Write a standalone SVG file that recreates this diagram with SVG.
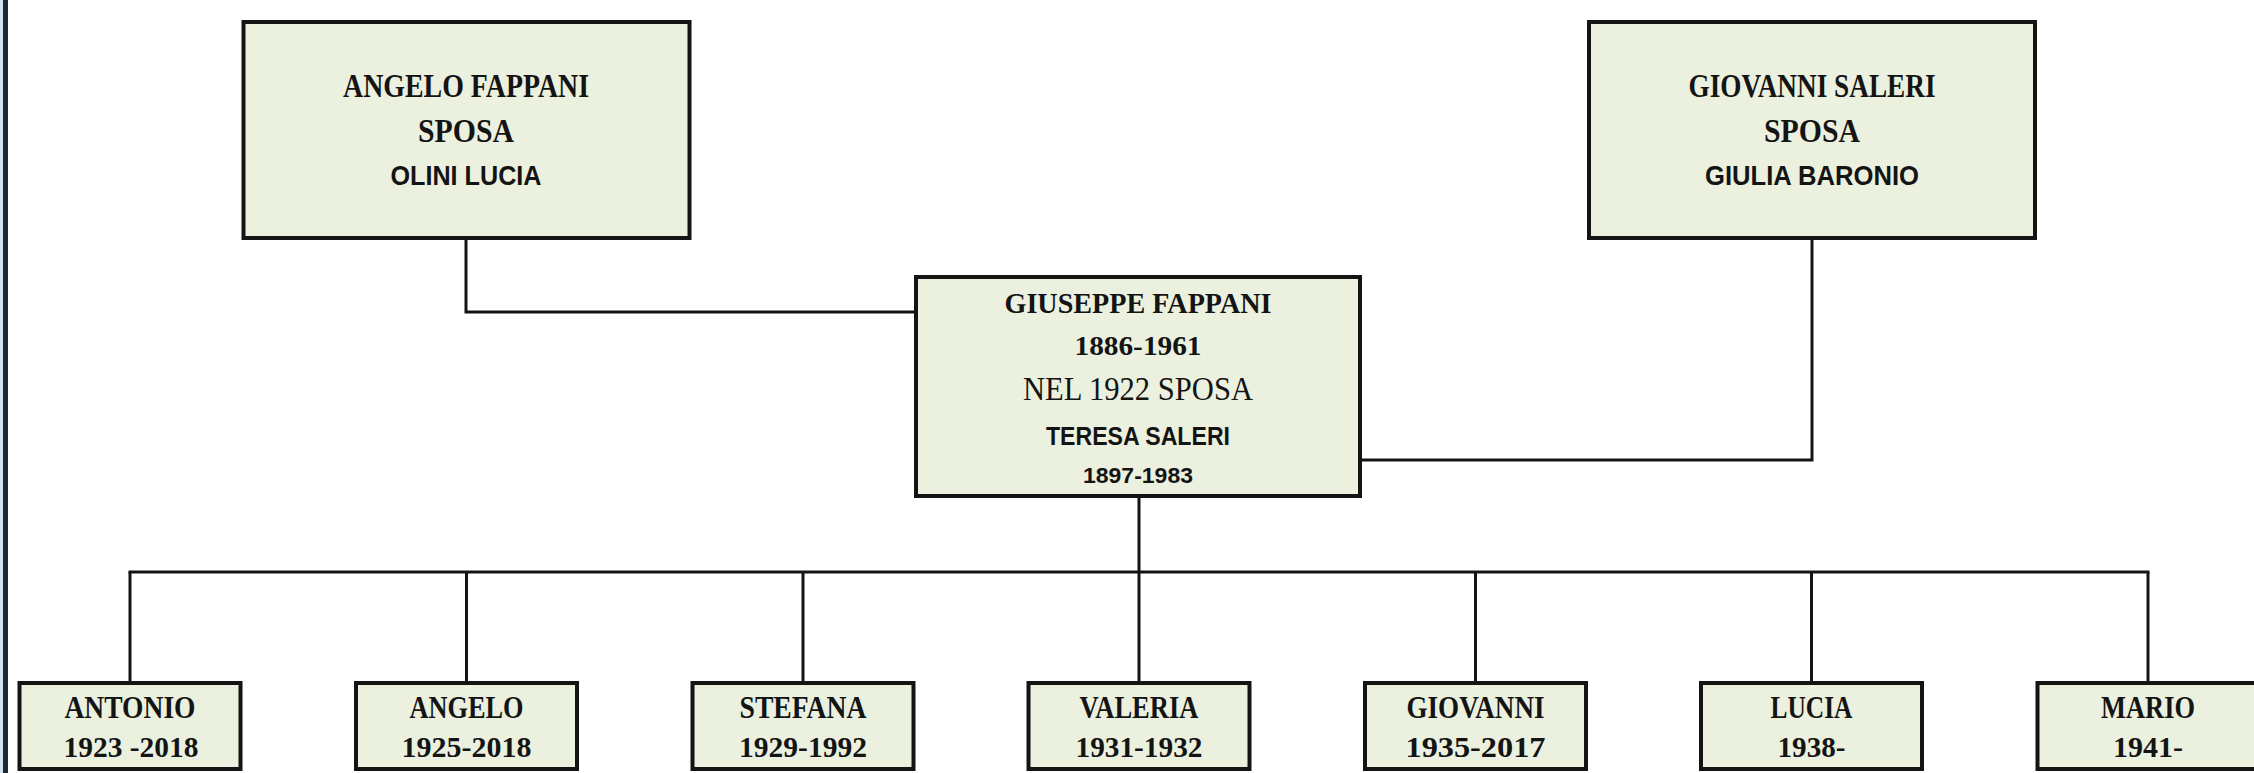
<svg xmlns="http://www.w3.org/2000/svg" width="2254" height="773" viewBox="0 0 2254 773">
<style>
.box{fill:#ebf1de;stroke:#141414;stroke-width:4}
.ln{fill:none;stroke:#141414;stroke-width:3}
text{text-anchor:middle;fill:#141414}
.sb{font-family:"Liberation Serif",serif;font-weight:bold}
.sr{font-family:"Liberation Serif",serif;font-weight:normal}
.ss{font-family:"Liberation Sans",Arial,sans-serif;font-weight:bold}
</style>
<rect x="0" y="0" width="2254" height="773" fill="#ffffff"/>
<rect x="0" y="0" width="3" height="773" fill="#cfe2f2"/>
<rect x="3" y="0" width="5" height="773" fill="#1c2833"/>
<g id="connectors">
<polyline class="ln" points="466,240 466,312 914,312"/>
<polyline class="ln" points="1812,240 1812,460 1362,460"/>
<line class="ln" x1="1139" y1="498" x2="1139" y2="572"/>
<line class="ln" x1="128.5" y1="572" x2="2149.5" y2="572"/>
<line class="ln" x1="130" y1="572" x2="130" y2="682"/>
<line class="ln" x1="466.5" y1="572" x2="466.5" y2="682"/>
<line class="ln" x1="803" y1="572" x2="803" y2="682"/>
<line class="ln" x1="1139" y1="572" x2="1139" y2="682"/>
<line class="ln" x1="1475.5" y1="572" x2="1475.5" y2="682"/>
<line class="ln" x1="1811.5" y1="572" x2="1811.5" y2="682"/>
<line class="ln" x1="2148" y1="572" x2="2148" y2="682"/>
</g>
<g id="angelo-fappani">
<rect class="box" x="243.5" y="22" width="446" height="216"/>
<text class="sb" x="466" y="97" font-size="33" textLength="246" lengthAdjust="spacingAndGlyphs">ANGELO FAPPANI</text>
<text class="sb" x="466" y="142" font-size="33" textLength="96" lengthAdjust="spacingAndGlyphs">SPOSA</text>
<text class="ss" x="466" y="185" font-size="28" textLength="151" lengthAdjust="spacingAndGlyphs">OLINI LUCIA</text>
</g>
<g id="giovanni-saleri">
<rect class="box" x="1589" y="22" width="446" height="216"/>
<text class="sb" x="1812" y="97" font-size="33" textLength="247" lengthAdjust="spacingAndGlyphs">GIOVANNI SALERI</text>
<text class="sb" x="1812" y="142" font-size="33" textLength="96" lengthAdjust="spacingAndGlyphs">SPOSA</text>
<text class="ss" x="1812" y="185" font-size="28" textLength="214" lengthAdjust="spacingAndGlyphs">GIULIA BARONIO</text>
</g>
<g id="giuseppe-fappani">
<rect class="box" x="916" y="277" width="444" height="219"/>
<text class="sb" x="1138" y="313" font-size="29" textLength="267" lengthAdjust="spacingAndGlyphs">GIUSEPPE FAPPANI</text>
<text class="sb" x="1138" y="355" font-size="27" textLength="127" lengthAdjust="spacingAndGlyphs">1886-1961</text>
<text class="sr" x="1138" y="400" font-size="33" textLength="230" lengthAdjust="spacingAndGlyphs">NEL 1922 SPOSA</text>
<text class="ss" x="1138" y="445" font-size="25.5" textLength="184" lengthAdjust="spacingAndGlyphs">TERESA SALERI</text>
<text class="ss" x="1138" y="483" font-size="22.5" textLength="110" lengthAdjust="spacingAndGlyphs">1897-1983</text>
</g>
<g id="antonio">
<rect class="box" x="19.5" y="683" width="221" height="86"/>
<text class="sb" x="130" y="718" font-size="31" textLength="131" lengthAdjust="spacingAndGlyphs">ANTONIO</text>
<text class="sb" x="131" y="757" font-size="29" textLength="135" lengthAdjust="spacingAndGlyphs">1923 -2018</text>
</g>
<g id="angelo">
<rect class="box" x="356" y="683" width="221" height="86"/>
<text class="sb" x="466.5" y="718" font-size="31" textLength="114" lengthAdjust="spacingAndGlyphs">ANGELO</text>
<text class="sb" x="466.5" y="757" font-size="29" textLength="130" lengthAdjust="spacingAndGlyphs">1925-2018</text>
</g>
<g id="stefana">
<rect class="box" x="692.5" y="683" width="221" height="86"/>
<text class="sb" x="803" y="718" font-size="31" textLength="127" lengthAdjust="spacingAndGlyphs">STEFANA</text>
<text class="sb" x="803" y="757" font-size="29" textLength="128" lengthAdjust="spacingAndGlyphs">1929-1992</text>
</g>
<g id="valeria">
<rect class="box" x="1028.5" y="683" width="221" height="86"/>
<text class="sb" x="1139" y="718" font-size="31" textLength="119" lengthAdjust="spacingAndGlyphs">VALERIA</text>
<text class="sb" x="1139" y="757" font-size="29" textLength="127" lengthAdjust="spacingAndGlyphs">1931-1932</text>
</g>
<g id="giovanni">
<rect class="box" x="1365" y="683" width="221" height="86"/>
<text class="sb" x="1475.5" y="718" font-size="31" textLength="138" lengthAdjust="spacingAndGlyphs">GIOVANNI</text>
<text class="sb" x="1475.5" y="757" font-size="29" textLength="140" lengthAdjust="spacingAndGlyphs">1935-2017</text>
</g>
<g id="lucia">
<rect class="box" x="1701" y="683" width="221" height="86"/>
<text class="sb" x="1811.5" y="718" font-size="31" textLength="82" lengthAdjust="spacingAndGlyphs">LUCIA</text>
<text class="sb" x="1811.5" y="757" font-size="29" textLength="68" lengthAdjust="spacingAndGlyphs">1938-</text>
</g>
<g id="mario">
<rect class="box" x="2037.5" y="683" width="221" height="86"/>
<text class="sb" x="2148" y="718" font-size="31" textLength="94" lengthAdjust="spacingAndGlyphs">MARIO</text>
<text class="sb" x="2148" y="757" font-size="29" textLength="70" lengthAdjust="spacingAndGlyphs">1941-</text>
</g>
</svg>
